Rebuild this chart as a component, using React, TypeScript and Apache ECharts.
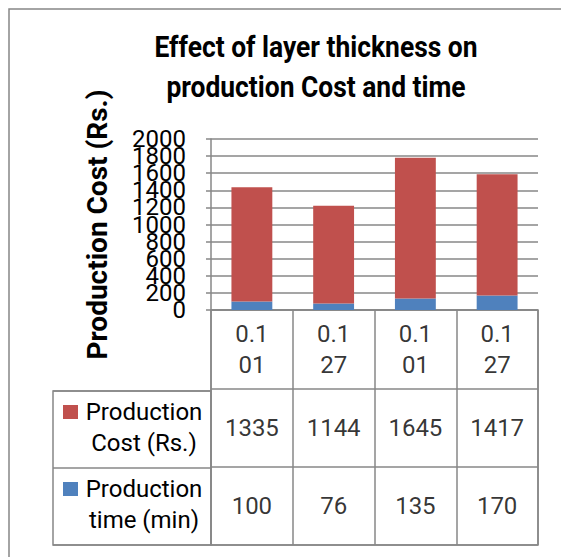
import React, { useEffect, useRef } from "react";
import * as echarts from "echarts";

const categories = ["0.101", "0.127", "0.101", "0.127"];
const costValues = [1335, 1144, 1645, 1417];
const timeValues = [100, 76, 135, 170];
const seriesNames = ["Production Cost (Rs.)", "Production time (min)"];
const legendLines = [
  ["Production", "Cost (Rs.)"],
  ["Production", "time (min)"],
];
const seriesColors = ["#C0504D", "#4F81BD"];
const titleText = "Effect of layer thickness on\nproduction Cost and time";
const yAxisTitle = "Production Cost (Rs.)";
const yMin = 0;
const yMax = 2000;
const yStep = 200;

const GRID_COLOR = "#878787";
const FONT = "Roboto, 'Liberation Sans', sans-serif";

const wrapCat = (s: string) => s.slice(0, 3) + "\n" + s.slice(3);

export default function App() {
  const ref = useRef<HTMLDivElement>(null);
  useEffect(() => {
    if (!ref.current) return;
    const chart = echarts.init(ref.current, undefined, { renderer: "svg" });

    const tableData: any[] = [];
    categories.forEach((c, i) => {
      tableData.push({ value: [i, 0.5], label: { formatter: wrapCat(c) } });
      tableData.push({ value: [i, 1.5], label: { formatter: String(costValues[i]) } });
      tableData.push({ value: [i, 2.5], label: { formatter: String(timeValues[i]) } });
    });

    const legendGraphics: any[] = [];
    legendLines.forEach((lines, r) => {
      const top = 391 + r * 77;
      legendGraphics.push({
        type: "rect",
        shape: { x: 63, y: top + 14, width: 15, height: 14 },
        style: { fill: seriesColors[r] },
      });
      legendGraphics.push({
        type: "text",
        x: 144,
        y: top + 5,
        style: {
          text: lines.join("\n"),
          font: `24px ${FONT}`,
          fill: "#000",
          align: "center",
          verticalAlign: "top",
          lineHeight: 31,
        },
      });
    });

    const tickLabelStyle = {
      fontFamily: FONT,
      fontSize: 24,
      color: "#000",
      margin: 25,
      hideOverlap: false,
    };
    const isEvenTick = (v: number) => Math.round((v - yMin) / yStep) % 2 === 0;

    chart.setOption({
      animation: false,
      graphic: [
        {
          type: "rect",
          z: -10,
          shape: { x: 9, y: 9, width: 600, height: 600 },
          style: { fill: "none", stroke: GRID_COLOR, lineWidth: 1.5 },
        },
        {
          type: "text",
          x: 316,
          y: 27,
          scaleX: 0.88,
          style: {
            text: titleText,
            font: `bold 30px ${FONT}`,
            fill: "#000",
            align: "center",
            verticalAlign: "top",
            lineHeight: 40,
          },
        },
        ...legendGraphics,
      ],
      grid: [
        { left: 211, top: 139, width: 327, height: 171 },
        {
          left: 211, top: 310, width: 327, height: 235,
          show: true, borderColor: GRID_COLOR, borderWidth: 1.5,
        },
        {
          left: 53, top: 391, width: 158, height: 154,
          show: true, borderColor: GRID_COLOR, borderWidth: 1.5,
        },
      ],
      xAxis: [
        {
          type: "category",
          gridIndex: 0,
          data: categories,
          axisLine: { show: false },
          axisTick: { show: false },
          axisLabel: { show: false },
        },
        {
          type: "category",
          gridIndex: 1,
          data: categories,
          axisLine: { show: false },
          axisTick: { show: false },
          axisLabel: { show: false },
          splitLine: { show: true, lineStyle: { color: GRID_COLOR, width: 1.5 } },
        },
        {
          type: "value",
          gridIndex: 2,
          min: 0,
          max: 1,
          show: false,
        },
      ],
      yAxis: [
        {
          type: "value",
          gridIndex: 0,
          position: "left",
          min: yMin,
          max: yMax,
          interval: yStep,
          name: yAxisTitle,
          nameLocation: "middle",
          nameGap: 100,
          nameTextStyle: {
            fontFamily: FONT,
            fontWeight: "bold",
            fontSize: 28,
            color: "#000",
          },
          axisLine: { show: true, lineStyle: { color: GRID_COLOR, width: 1.5 } },
          axisTick: { show: true, length: 5, lineStyle: { color: GRID_COLOR, width: 1.5 } },
          axisLabel: {
            ...tickLabelStyle,
            showMinLabel: true,
            showMaxLabel: true,
            formatter: (v: number) => (isEvenTick(v) ? String(v) : ""),
          },
          splitLine: { show: true, lineStyle: { color: GRID_COLOR, width: 1.5 } },
        },
        {
          type: "value",
          gridIndex: 0,
          position: "left",
          offset: 0,
          min: yMin,
          max: yMax,
          interval: yStep,
          axisLine: { show: false },
          axisTick: { show: false },
          splitLine: { show: false },
          axisLabel: {
            ...tickLabelStyle,
            showMinLabel: false,
            showMaxLabel: false,
            formatter: (v: number) => (isEvenTick(v) ? "" : String(v)),
          },
        },
        {
          type: "value",
          gridIndex: 1,
          min: 0,
          max: 3,
          interval: 1,
          inverse: true,
          axisLine: { show: false },
          axisTick: { show: false },
          axisLabel: { show: false },
          splitLine: { show: true, lineStyle: { color: GRID_COLOR, width: 1.5 } },
        },
        {
          type: "value",
          gridIndex: 2,
          min: 0,
          max: 2,
          interval: 1,
          inverse: true,
          axisLine: { show: false },
          axisTick: { show: false },
          axisLabel: { show: false },
          splitLine: { show: true, lineStyle: { color: GRID_COLOR, width: 1.5 } },
        },
      ],
      series: [
        {
          name: seriesNames[1],
          type: "bar",
          stack: "total",
          xAxisIndex: 0,
          yAxisIndex: 0,
          barWidth: "50%",
          data: timeValues,
          itemStyle: { color: seriesColors[1] },
        },
        {
          name: seriesNames[0],
          type: "bar",
          stack: "total",
          xAxisIndex: 0,
          yAxisIndex: 0,
          barWidth: "50%",
          data: costValues,
          itemStyle: { color: seriesColors[0] },
        },
        {
          type: "scatter",
          xAxisIndex: 1,
          yAxisIndex: 2,
          symbolSize: 1,
          silent: true,
          itemStyle: { color: "rgba(0,0,0,0)" },
          label: {
            show: true,
            position: "inside",
            fontFamily: FONT,
            fontSize: 24,
            lineHeight: 31,
            color: "#000",
          },
          data: tableData,
        },
      ],
    });
    return () => chart.dispose();
  }, []);
  return (
    <div
      ref={ref}
      style={{ position: "fixed", left: 0, top: 0, width: 561, height: 557, background: "#fff" }}
    />
  );
}
